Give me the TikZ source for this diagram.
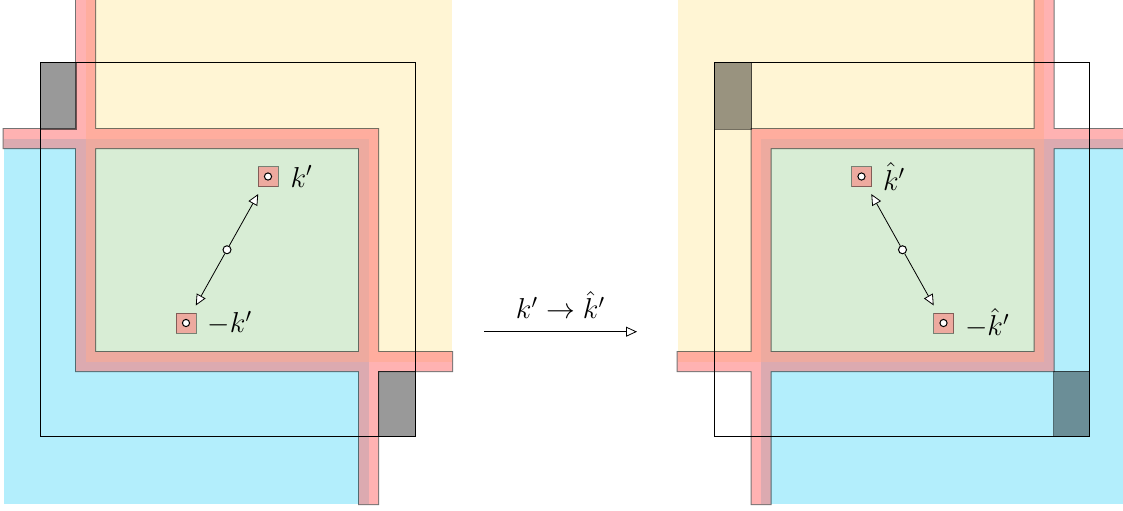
\documentclass[tikz,border=0pt]{standalone}
\usetikzlibrary{arrows.meta,positioning}

\definecolor{yellowfill}{HTML}{FFF5D4}
\definecolor{bluefill}{HTML}{B3EEFC}
\definecolor{greenfill}{HTML}{D8EDD5}
\definecolor{stripred}{HTML}{FF7373}

\begin{document}
\begin{tikzpicture}[
        x=0.5pt, y=-0.5pt,
        every node/.style={font=\Large},
        upperreg/.style={fill=yellowfill},
        lowerreg/.style={fill=bluefill},
        overlap/.style={fill=greenfill},
        strip/.style={fill=stripred, preaction={draw=black, line width=1pt}},
        gapzone/.style={fill=black, fill opacity=0.4, draw=black, draw opacity=0.55, line width=0.5pt},
        cell/.style={draw=black, line width=0.5pt},
        kbox/.style={rectangle, minimum size=10pt, inner sep=0pt, fill=stripred, fill opacity=0.55,
            draw=black, draw opacity=0.45, line width=0.5pt,
            path picture={\draw[fill=white, fill opacity=1, draw opacity=1, line width=0.5pt]
                (path picture bounding box.center) circle (1.8pt);}},
        midpt/.style={circle, draw=black, fill=white, inner sep=0pt, minimum size=4pt, line width=0.5pt},
        tip/.style={-{Triangle[open, fill=white, length=5.5pt, width=5pt]}},
        swap/.style={tip, shorten >=4pt}
        ]

        \path[use as bounding box] (0,0) rectangle (1123,510);
        \clip (0,0) rectangle (1123,510);

        % ---- left panel: k' ----
        \fill[upperreg] (85.5,-10) rectangle (452,361.5);
        \fill[lowerreg] (3.5,138.5) rectangle (368.5,504);
        \fill[overlap] (85.5,138.5) rectangle (368.5,361.5);

        \begin{scope}[transparency group, opacity=0.55]
            \path[strip] (76,-10) -- (76,371) -- (452,371) -- (452,352) -- (95,352) -- (95,-10) -- cycle
                (3.5,148) -- (359,148) -- (359,504) -- (378,504) -- (378,129) -- (3.5,129) -- cycle;
        \end{scope}

        \path[gapzone] (40,62) rectangle (76,129);
        \path[gapzone] (378,371) rectangle (415,436);
        \draw[cell] (40,62) rectangle (415,436);

        \node[kbox] (kA) at (268,176.5) {};
        \node[kbox] (mkA) at (186,323) {};
        \node[midpt] (cA) at (227,249.75) {};
        \draw[swap] (cA) -- (kA);
        \draw[swap] (cA) -- (mkA);
        \node[right=2.5pt of kA] (kAlab) {$k'$};
        \node[right=2pt of mkA] (mkAlab) {$-k'$};

        % ---- the map between the panels ----
        \coordinate (mapS) at (484,331.7);
        \coordinate (mapE) at (637,331.7);
        \draw[tip] (mapS) -- node[above=3pt] (maplab) {$k' \to \hat{k}'$} (mapE);

        % ---- right panel: hat k' (mirrored) ----
        \fill[upperreg] (677.5,-10) rectangle (1044,361.5);
        \fill[lowerreg] (761,138.5) rectangle (1130,504);
        \fill[overlap] (761,138.5) rectangle (1044,361.5);

        \begin{scope}[transparency group, opacity=0.55]
            \path[strip] (677.5,352) -- (1034.5,352) -- (1034.5,-10) -- (1053.5,-10) -- (1053.5,371) -- (677.5,371) -- cycle
                (1130,148) -- (770.5,148) -- (770.5,504) -- (751.5,504) -- (751.5,129) -- (1130,129) -- cycle;
        \end{scope}

        \path[gapzone] (714.5,62) rectangle (751.5,129);
        \path[gapzone] (1053.5,371) rectangle (1089.5,436);
        \draw[cell] (714.5,62) rectangle (1089.5,436);

        \node[kbox] (kB) at (861.5,176.5) {};
        \node[kbox] (mkB) at (943.5,323) {};
        \node[midpt] (cB) at (902.5,249.75) {};
        \draw[swap] (cB) -- (kB);
        \draw[swap] (cB) -- (mkB);
        \node[right=2pt of kB] (kBlab) {$\hat{k}'$};
        \node[right=2pt of mkB] (mkBlab) {$-\hat{k}'$};

    \end{tikzpicture}
\end{document}
